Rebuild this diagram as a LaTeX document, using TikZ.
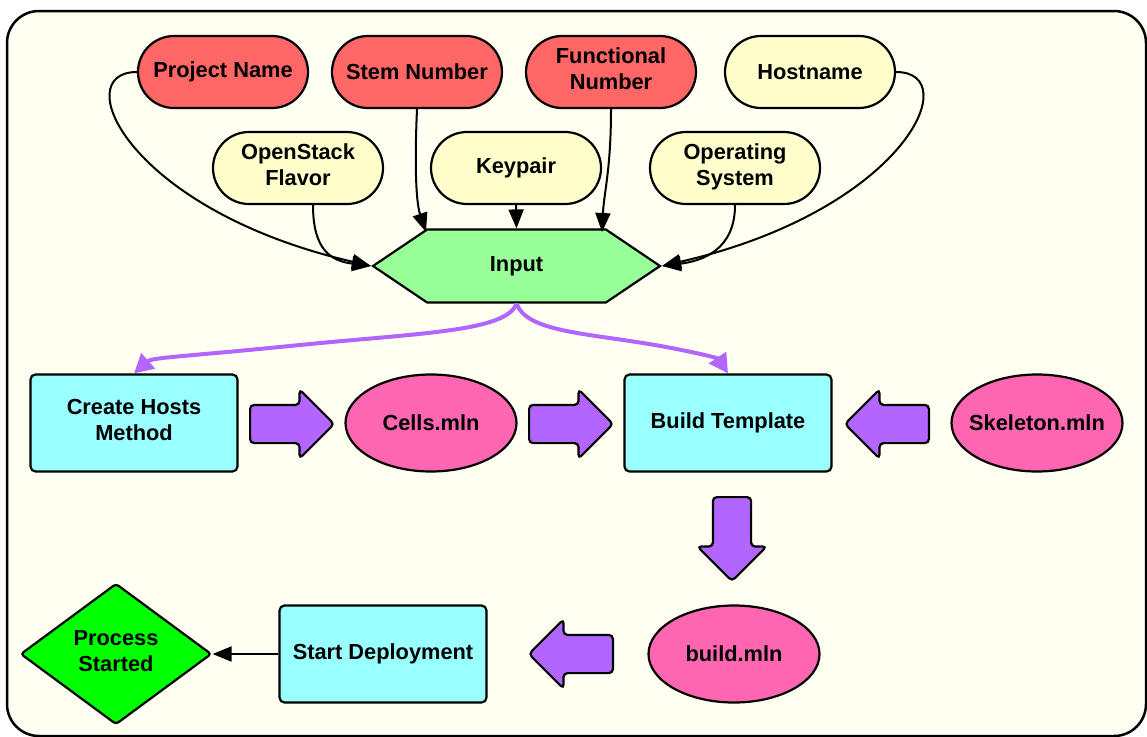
\documentclass[tikz,border=0pt]{standalone}
\usepackage{fontspec}
\setmainfont{Liberation Sans}
\usetikzlibrary{shapes.geometric,shapes.misc,shapes.arrows,shapes.symbols,arrows.meta}
\definecolor{bgcream}{HTML}{FFFFF2}
\definecolor{pillred}{HTML}{FF6666}
\definecolor{pillyellow}{HTML}{FFFFCC}
\definecolor{hexgreen}{HTML}{99FF99}
\definecolor{boxcyan}{HTML}{99FFFF}
\definecolor{ovalpink}{HTML}{FF66B2}
\definecolor{blkpurple}{HTML}{B266FF}
\definecolor{diagreen}{HTML}{00FF00}
\begin{document}
\begin{tikzpicture}[x=1pt,y=-1pt,
  font=\fontsize{21.8}{26}\selectfont\bfseries,
  every node/.style={line width=2.2pt, align=center},
  pill/.style={rounded rectangle, draw, minimum width=170pt, minimum height=72pt, inner sep=0pt},
  redpill/.style={pill, fill=pillred},
  yelpill/.style={pill, fill=pillyellow},
  box/.style={rectangle, rounded corners=5pt, draw, fill=boxcyan, minimum width=207pt, minimum height=97pt, inner sep=0pt},
  oval/.style={ellipse, draw, fill=ovalpink, minimum width=171pt, minimum height=97pt, inner xsep=-25pt, inner ysep=0pt},
  blk/.style={single arrow, draw, fill=blkpurple, rounded corners=4pt, minimum height=84pt, anchor=tail,
    inner xsep=0pt, inner ysep=18pt, single arrow head extend=15.5pt, single arrow tip angle=90},
  link/.style={line width=2pt, -{Triangle[length=19pt,width=15pt]}},
  purplelink/.style={draw=blkpurple, line width=4pt, -{Triangle[length=19pt,width=20pt]}},
]
\useasboundingbox (0,0) rectangle (1147,736);
% outer frame
\draw[fill=bgcream, line width=2.5pt, rounded corners=32pt] (7,11) rectangle (1146,736);

% input fields
\node[redpill] (pn) at (223,72) {Project Name};
\node[redpill] (sn) at (417,72) {Stem Number};
\node[redpill] (fn) at (611,72) {Functional\\Number\\[-20pt]\mbox{}};
\node[yelpill] (hn) at (810,72) {Hostname};
\node[yelpill] (fl) at (298,168) {OpenStack\\Flavor\\[-20pt]\mbox{}};
\node[yelpill] (kp) at (516,168) {Keypair};
\node[yelpill] (os) at (735,168) {Operating\\System\\[-20pt]\mbox{}};

% collected input
\node[signal, signal to=east and west, signal pointer angle=68, draw, fill=hexgreen,
  minimum width=287pt, minimum height=73pt, inner sep=0pt] (in) at (516.5,266) {Input};

% processing row
\node[box] (ch) at (134,423) {Create Hosts\\Method\\[-20pt]\mbox{}};
\node[oval] (cm) at (431,423) {Cells.mln};
\node[box] (bt) at (728,423) {Build Template};
\node[oval] (sk) at (1037,423) {Skeleton.mln};
\node[oval] (bm) at (734,654) {build.mln};
\node[box] (sd) at (383,654) {Start Deployment};
\node[diamond, draw, fill=diagreen, rounded corners=3pt, minimum width=191pt, minimum height=141pt,
  inner sep=0pt] (ps) at (116,654) {Process\\Started\\[-20pt]\mbox{}};

% block arrows
\node[blk] (a1) at (249,424) {};
\node[blk] (a2) at (528,424) {};
\node[blk, rotate=180] (a3) at (930,424) {};
\node[blk, rotate=-90] (a4) at (732,496) {};
\node[blk, rotate=180] (a5) at (614,654) {};

% connectors into Input
\draw[link] (pn.west) .. controls +(-70,0) and +(-243,-56) .. (in.west);
\draw[link] (hn.east) .. controls +(70,0) and +(243,-56) .. (in.east);
\draw[link] (fl.south -| 313,0) .. controls +(0,45) and +(-40,-5) .. (in.west);
\draw[link] (os.south) .. controls +(0,45) and +(40,-5) .. (in.east);
\draw[link] (sn.south) .. controls +(-4,90) and +(-6,-18) .. (426,232);
\draw[link] (fn.south) .. controls +(0,60) and +(2,-40) .. (602,232);
\draw[link] (kp.south) -- (in.north);

% outputs of Input
\draw[purplelink] (in.south) .. controls +(-10,28) and +(120,-12) .. (300,345)
  .. controls +(-120,12) and +(18,-16) .. (ch.north);
\draw[purplelink] (in.south) .. controls +(10,28) and +(-70,-12) .. (655,345)
  .. controls +(45,8) and +(-10,-15) .. (bt.north);

% deployment
\draw[link] (sd.west) -- (ps.east);
\end{tikzpicture}
\end{document}
